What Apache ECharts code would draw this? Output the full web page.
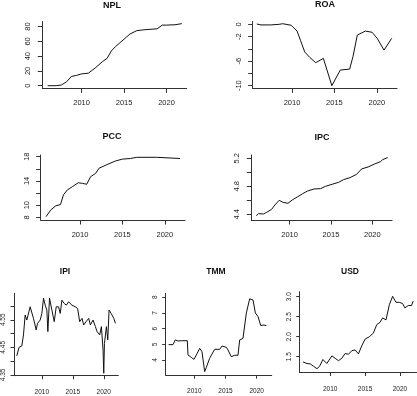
<!DOCTYPE html>
<html>
<head>
<meta charset="utf-8">
<script src="https://cdn.jsdelivr.net/npm/echarts@6/dist/echarts.min.js"></script>
<style>
  html, body { margin: 0; padding: 0; background: #fff; }
  #chart { width: 417px; height: 396px; }
</style>
</head>
<body>
<div id="chart"></div>
<script>
(function () {

  // --- data ---
  var nplYears = [2006, 2007, 2007.6, 2008.2, 2008.8, 2009.4, 2010, 2010.8, 2011.6, 2012.5, 2013, 2013.5, 2014, 2014.5, 2015, 2015.7, 2016.5, 2017.2, 2017.7, 2018.9, 2019.5, 2020, 2021, 2021.8];
  var nplValues = [0, 0, 0.9, 5, 12.5, 14, 16, 17, 24, 33, 37, 47, 53, 58, 63, 70, 74.5, 75.5, 76, 77, 82, 82, 82.5, 84];

  var roaYears = [2005.85, 2006.35, 2007.5, 2008.5, 2008.9, 2009.9, 2010.6, 2011, 2011.5, 2012.1, 2012.8, 2013.7, 2014.7, 2015.7, 2016.8, 2017.2, 2017.7, 2018.65, 2019.45, 2020.05, 2020.85, 2021.75];
  var roaValues = [0.05, -0.1, -0.1, 0, 0.1, -0.15, -1.1, -2.6, -4.5, -5.4, -6.25, -5.55, -10, -7.45, -7.3, -5.2, -1.75, -1.1, -1.3, -2.3, -4.2, -2.3];

  var pccYears = [2006, 2006.55, 2007.15, 2007.7, 2008.05, 2008.5, 2009.1, 2009.8, 2010.3, 2010.8, 2011.25, 2011.85, 2012.25, 2013.2, 2014.2, 2015, 2015.95, 2016.7, 2017.9, 2019.05, 2019.25, 2021.8];
  var pccValues = [8.1, 9.2, 9.9, 10.1, 11.7, 12.5, 13.05, 13.7, 13.6, 13.45, 14.7, 15.25, 16.1, 16.7, 17.3, 17.6, 17.7, 17.9, 17.9, 17.9, 17.7, 17.7];

  var ipcYears = [2005.97, 2006.25, 2006.84, 2007.23, 2007.83, 2008.22, 2008.74, 2009.21, 2009.8, 2010.32, 2010.99, 2011.58, 2012.17, 2012.96, 2013.75, 2014.35, 2015.14, 2015.93, 2016.52, 2017.31, 2018.1, 2018.7, 2019.49, 2020.28, 2020.99, 2021.26, 2021.86];
  var ipcValues = [4.381, 4.41, 4.405, 4.429, 4.471, 4.533, 4.6, 4.571, 4.557, 4.605, 4.652, 4.695, 4.733, 4.762, 4.767, 4.8, 4.829, 4.857, 4.895, 4.924, 4.971, 5.048, 5.076, 5.119, 5.152, 5.181, 5.21];

  var ipiYears = [2005.95, 2006.32, 2006.76, 2007.03, 2007.3, 2007.57, 2007.84, 2008.11, 2008.38, 2008.65, 2009.08, 2009.3, 2009.73, 2010, 2010.27, 2010.54, 2010.81, 2010.97, 2011.24, 2011.62, 2012, 2012.32, 2012.7, 2012.97, 2013.24, 2013.62, 2013.95, 2014.32, 2014.59, 2014.86, 2015.4, 2015.78, 2016.11, 2016.49, 2016.76, 2017.14, 2017.57, 2017.84, 2018.27, 2018.65, 2018.92, 2019.35, 2019.62, 2019.89, 2020, 2020.11, 2020.43, 2020.65, 2020.86, 2021.19, 2021.62, 2021.89];
  var ipiValues = [4.419, 4.45, 4.455, 4.495, 4.567, 4.549, 4.543, 4.597, 4.597, 4.555, 4.513, 4.537, 4.549, 4.573, 4.628, 4.603, 4.585, 4.507, 4.628, 4.585, 4.543, 4.597, 4.597, 4.573, 4.621, 4.609, 4.603, 4.615, 4.619, 4.603, 4.597, 4.591, 4.543, 4.555, 4.531, 4.543, 4.555, 4.531, 4.549, 4.525, 4.507, 4.495, 4.525, 4.44, 4.356, 4.464, 4.525, 4.477, 4.585, 4.573, 4.555, 4.537];

  var tmmYears = [2005.89, 2006.59, 2006.96, 2007.39, 2007.92, 2008.88, 2008.99, 2009.52, 2009.95, 2010.33, 2010.86, 2011.23, 2011.66, 2011.93, 2012.46, 2013.26, 2014.07, 2014.44, 2015.13, 2015.4, 2015.93, 2016.47, 2017.0, 2017.27, 2017.8, 2018.34, 2018.87, 2019.41, 2019.78, 2020.21, 2020.64, 2021.01, 2021.54];
  var tmmValues = [4.98, 4.98, 5.28, 5.21, 5.23, 5.23, 4.32, 4.17, 4.04, 4.32, 4.74, 4.53, 3.26, 3.53, 4.11, 4.68, 4.68, 4.89, 4.81, 4.64, 4.21, 4.3, 4.3, 5.28, 5.38, 7.0, 7.9, 7.83, 7.0, 6.77, 6.2, 6.23, 6.2];

  var usdYears = [2006.1, 2006.67, 2007.14, 2007.62, 2008.1, 2008.48, 2008.95, 2009.52, 2010.24, 2010.71, 2011.19, 2011.67, 2012.14, 2012.62, 2013.1, 2013.57, 2014.05, 2014.52, 2015, 2015.62, 2016.19, 2016.67, 2017.14, 2017.52, 2018, 2018.48, 2018.95, 2019.43, 2019.9, 2020.38, 2020.71, 2021.19, 2021.67, 2021.9];
  var usdValues = [1.37, 1.33, 1.32, 1.26, 1.2, 1.26, 1.43, 1.33, 1.52, 1.46, 1.4, 1.46, 1.58, 1.56, 1.65, 1.67, 1.57, 1.77, 1.94, 2.0, 2.09, 2.3, 2.36, 2.47, 2.42, 2.8, 3.01, 2.86, 2.86, 2.83, 2.72, 2.78, 2.78, 2.89];

  var yearTicks = [2010, 2015, 2020];

  // panel layout (pixels) and axis ranges
  var panels = [
    { name: 'NPL', years: nplYears, values: nplValues, left: 42.3, top: 21.5, width: 144.4, height: 66.8, x: [2005.37, 2022.38], y: [-3.5, 86.9], ticks: [0, 20, 40, 60, 80], labels: [0, 20, 40, 60, 80], tx: 112, ty: 6, small: false },
    { name: 'ROA', years: roaYears, values: roaValues, left: 252.7, top: 21.5, width: 144.3, height: 66.8, x: [2005.37, 2022.38], y: [-10.43, 0.46], ticks: [-10, -8, -6, -4, -2, 0], labels: [-10, -6, -2, 0], tx: 325, ty: 4.5, small: false },
    { name: 'PCC', years: pccYears, values: pccValues, left: 40.7, top: 155, width: 144.3, height: 65, x: [2005.37, 2022.38], y: [7.555, 18.28], ticks: [8, 10, 12, 14, 16, 18], labels: [8, 10, 14, 18], tx: 112, ty: 137, small: false },
    { name: 'IPC', years: ipcYears, values: ipcValues, left: 251.3, top: 155, width: 140.7, height: 65, x: [2005.37, 2022.38], y: [4.319, 5.247], ticks: [4.4, 4.6, 4.8, 5.0, 5.2], labels: [4.4, 4.8, 5.2], tx: 322, ty: 138, small: false },
    { name: 'IPI', years: ipiYears, values: ipiValues, left: 13.3, top: 293.3, width: 105, height: 82.4, x: [2005.5, 2022.35], y: [4.347, 4.646], ticks: [4.35, 4.40, 4.45, 4.50, 4.55, 4.60], labels: [4.35, 4.45, 4.55], tx: 65, ty: 272, small: true },
    { name: 'TMM', years: tmmYears, values: tmmValues, left: 165.7, top: 293.3, width: 106, height: 81.9, x: [2005.42, 2022.4], y: [3.03, 8.255], ticks: [4, 5, 6, 7, 8], labels: [4, 5, 6, 7, 8], tx: 216, ty: 272, small: true },
    { name: 'USD', years: usdYears, values: usdValues, left: 299.7, top: 291.7, width: 117, height: 80.8, x: [2005.63, 2022.4], y: [1.105, 3.125], ticks: [1.5, 2.0, 2.5, 3.0], labels: [1.5, 2.0, 2.5, 3.0], tx: 350, ty: 272, small: true }
  ];

  var font = 'Liberation Sans, Arial, sans-serif';
  var axisColor = '#333';
  var textColor = '#222';

  function labelText(v, p) {
    if (p.name === 'IPI') return v.toFixed(2);
    if (p.name === 'USD' || p.name === 'IPC') return v.toFixed(1);
    return String(v);
  }

  var grids = [], xAxes = [], yAxes = [], series = [], titles = [];

  panels.forEach(function (p, i) {
    var fs = p.small ? 6.5 : 7.5;
    var tickLen = p.small ? 3.5 : 4.5;

    grids.push({ left: p.left, top: p.top, width: p.width, height: p.height });

    xAxes.push({
      gridIndex: i,
      type: 'value',
      min: p.x[0],
      max: p.x[1],
      splitLine: { show: false },
      axisLine: { show: true, onZero: false, lineStyle: { color: axisColor, width: 1 } },
      axisTick: { show: true, length: tickLen, customValues: yearTicks, lineStyle: { color: axisColor, width: 1 } },
      axisLabel: {
        customValues: yearTicks,
        fontSize: fs,
        fontFamily: font,
        color: textColor,
        margin: p.small ? 13 : 10.5,
        formatter: function (v) { return String(v); }
      }
    });

    yAxes.push({
      gridIndex: i,
      type: 'value',
      min: p.y[0],
      max: p.y[1],
      splitLine: { show: false },
      axisLine: { show: true, onZero: false, lineStyle: { color: axisColor, width: 1 } },
      axisTick: { show: true, length: tickLen, customValues: p.ticks, lineStyle: { color: axisColor, width: 1 } },
      axisLabel: {
        customValues: p.labels,
        rotate: 90,
        fontSize: fs,
        fontFamily: font,
        color: textColor,
        margin: p.small ? 7 : 10,
        formatter: function (v) { return labelText(v, p); }
      }
    });

    series.push({
      type: 'line',
      xAxisIndex: i,
      yAxisIndex: i,
      data: p.years.map(function (yr, k) { return [yr, p.values[k]]; }),
      showSymbol: false,
      symbol: 'none',
      lineStyle: { color: '#111', width: 1 },
      silent: true
    });

    titles.push({
      text: p.name,
      left: p.tx,
      top: p.ty,
      textAlign: 'center',
      textVerticalAlign: 'middle',
      padding: 0,
      textStyle: { fontSize: p.small ? 8.5 : 9, fontWeight: 'bold', fontFamily: font, color: '#111' }
    });
  });

  var chart = echarts.init(document.getElementById('chart'), null, { renderer: 'canvas' });
  chart.setOption({
    animation: false,
    backgroundColor: '#fff',
    title: titles,
    grid: grids,
    xAxis: xAxes,
    yAxis: yAxes,
    series: series
  });
}());
</script>
</body>
</html>
